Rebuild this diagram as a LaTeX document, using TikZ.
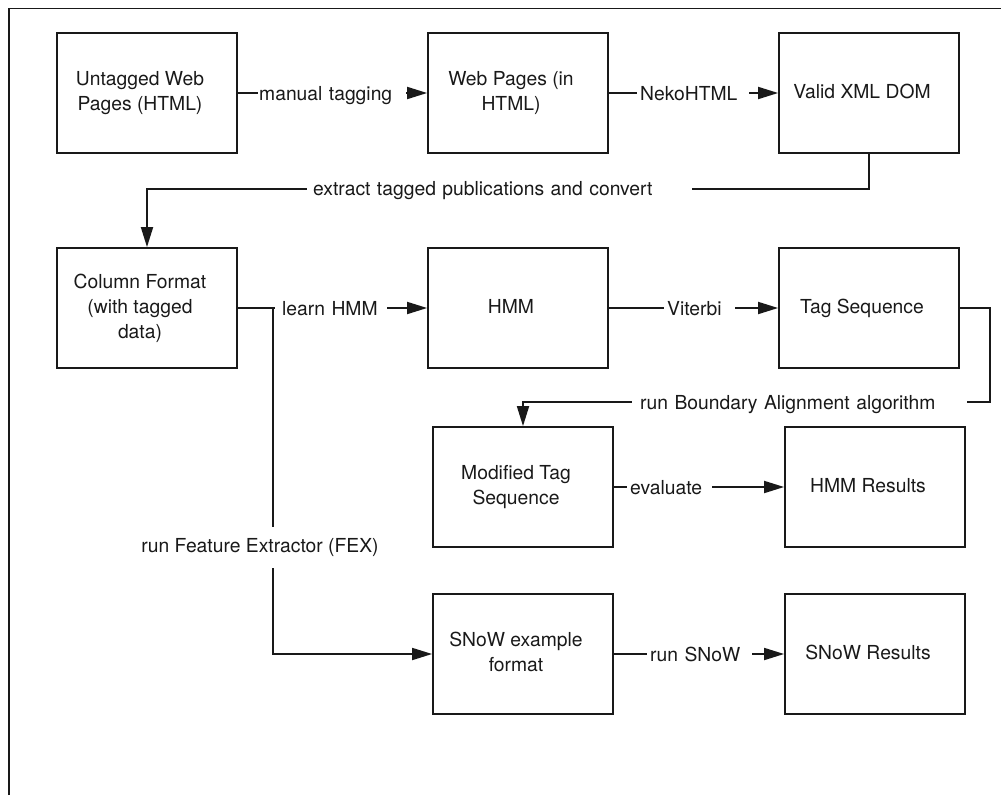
\documentclass[tikz,border=0pt]{standalone}
\usepackage{fontspec}
\setmainfont{TeX Gyre Heros}
\usetikzlibrary{arrows.meta}
\newcommand\bxt[1]{\begin{tabular}{@{}c@{\hspace{14pt}}}#1\end{tabular}}
\begin{document}
\begin{tikzpicture}[x=1pt,y=-1pt,
  every node/.style={font=\fontsize{19.3}{25}\selectfont, text=black!90},
  box/.style={draw=black!90, line width=1.8pt, minimum width=180pt, minimum height=120pt, inner sep=0pt},
  conn/.style={draw=black!90, line width=1.8pt, -{Triangle[length=20pt,width=12pt]}},
  plain/.style={draw=black!90, line width=1.8pt},
  lab/.style={fill=white, inner sep=0pt, anchor=west, align=left, yshift=-2pt},
  vlab/.style={fill=white, inner xsep=0pt, inner ysep=0pt, minimum height=41pt}]
\useasboundingbox (0,0) rectangle (1001,795);
\draw[plain] (9,795) -- (9,8.5) -- (1001,8.5);

\node[box] (untag) at (147,93) {\bxt{Untagged Web\\Pages (HTML)}};
\node[box] (web) at (518,93) {\bxt{Web Pages (in\\HTML)}};
\node[box] (valid) at (869,93) {\bxt{Valid XML DOM}};
\node[box] (col) at (147,308) {\bxt{Column Format\\(with tagged\\data)}};
\node[box] (hmm) at (518,308) {\bxt{HMM}};
\node[box] (tag) at (869,308) {\bxt{Tag Sequence}};
\node[box] (mod) at (523,487) {\bxt{Modified Tag\\Sequence}};
\node[box] (hres) at (875,487) {\bxt{HMM Results}};
\node[box] (snex) at (523,654) {\bxt{SNoW example\\format}};
\node[box] (sres) at (875,654) {\bxt{SNoW Results}};

\coordinate (br) at (273,308);

\draw[conn] (untag.east) -- (web.west);
\draw[conn] (web.east) -- (valid.west);
\draw[conn] (valid.south) -- ++(0,35) -| (col.north);
\draw[conn] (col.east) -- (hmm.west);
\draw[conn] (hmm.east) -- (tag.west);
\draw[conn] (tag.east) -| (990,402) -| (mod.north);
\draw[conn] (mod.east) -- (hres.west);
\draw[conn] (br) |- (snex.west);
\draw[conn] (snex.east) -- (sres.west);

\node[lab, text width=148pt] at (258,93) {\hspace*{1pt}manual tagging\strut};
\node[lab, text width=112pt] at (637,93) {\hspace*{3pt}NekoHTML\strut};
\node[lab, text width=385pt] at (307,188) {\hspace*{6pt}extract tagged publications and convert\strut};
\node[lab, text width=112pt] at (275,308) {\hspace*{7pt}learn HMM\strut};
\node[lab, text width=71pt] at (664,308) {\hspace*{3pt}Viterbi\strut};
\node[lab, text width=335pt] at (632,402) {\hspace*{8pt}run Boundary Alignment algorithm\strut};
\node[lab, text width=85pt] at (627,487) {\hspace*{3pt}evaluate\strut};
\node[lab, text width=105pt] at (647,654) {\hspace*{3pt}run SNoW\strut};
\node[vlab] at (260,547.5) {run Feature Extractor (FEX)};
\end{tikzpicture}
\end{document}
